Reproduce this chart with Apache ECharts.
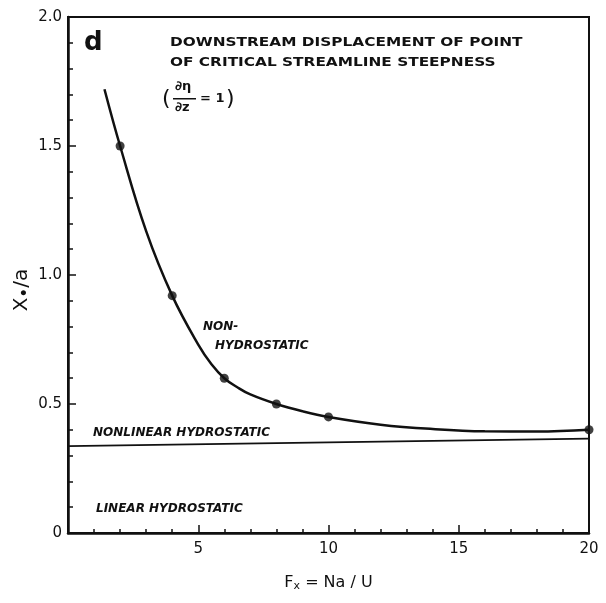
<!DOCTYPE html>
<html>
<head>
<meta charset="utf-8">
<script src="https://cdn.jsdelivr.net/npm/echarts@6/dist/echarts.min.js"></script>
<style>
  html, body { margin: 0; padding: 0; background: #fff; }
  #chart { width: 606px; height: 603px; }
</style>
</head>
<body>
<div id="chart"></div>
<script>
// measured points (dots)
const fxPoints = [2, 4, 6, 8, 10, 20]
const xaPoints = [1.5, 0.92, 0.6, 0.5, 0.45, 0.4]

// fitted curve
const curveFx = [1.4, 2, 3, 4, 5, 5.5, 6, 6.5, 7, 8, 9, 10, 12, 14, 16, 18, 20]
const curveXa = [1.72, 1.5, 1.17, 0.92, 0.73, 0.655, 0.6, 0.565, 0.537, 0.5, 0.472, 0.45, 0.42, 0.403, 0.394, 0.393, 0.4]

// nonlinear hydrostatic reference line
const hydroFx = [0, 20]
const hydroXa = [0.337, 0.366]

const xTicks = [5, 10, 15, 20]
const yTicks = ['0', '0.5', '1.0', '1.5', '2.0']

const ink = '#111'
const font = 'DejaVu Sans, Liberation Sans, sans-serif'
const zip = (xs, ys) => xs.map((x, i) => [x, ys[i]])

const chart = echarts.init(document.getElementById('chart'), null, { renderer: 'canvas' })

const italic = { fill: ink, font: 'italic bold 12px ' + font }
const caption = { fill: ink, font: 'bold 13px ' + font, align: 'left', verticalAlign: 'top' }

chart.setOption({
  animation: false,
  backgroundColor: '#fff',
  grid: {
    left: 68, right: 17, top: 17, bottom: 70,
    show: true, borderColor: ink, borderWidth: 2, backgroundColor: 'transparent',
  },
  xAxis: {
    type: 'value',
    min: 0, max: 20, interval: 5,
    axisLine: { lineStyle: { color: ink, width: 2.5 } },
    axisTick: { inside: true, length: 8, lineStyle: { color: ink, width: 1.5 } },
    minorTick: { show: true, splitNumber: 5, length: 4, lineStyle: { color: ink, width: 1.5 } },
    splitLine: { show: false },
    axisLabel: {
      color: ink, fontSize: 15, fontFamily: font, margin: 9,
      formatter: v => (xTicks.includes(v) ? String(v) : ''),
    },
    name: '{b|F}{s|x}{b| = Na / U}',
    nameLocation: 'middle',
    nameGap: 40,
    nameTextStyle: {
      rich: {
        b: { fontSize: 16, color: ink, fontFamily: font },
        s: { fontSize: 11, color: ink, fontFamily: font, padding: [8, 0, 0, 0] },
      },
    },
  },
  yAxis: {
    type: 'value',
    min: 0, max: 2, interval: 0.5,
    axisLine: { show: true, lineStyle: { color: ink, width: 2.5 } },
    axisTick: { show: true, inside: true, length: 8, lineStyle: { color: ink, width: 1.5 } },
    minorTick: { show: true, splitNumber: 5, length: 5, lineStyle: { color: ink, width: 1.5 } },
    splitLine: { show: false },
    axisLabel: {
      color: ink, fontSize: 15, fontFamily: font, margin: 6,
      formatter: v => yTicks[Math.round(v / 0.5)],
    },
  },
  series: [
    {
      type: 'line',
      data: zip(curveFx, curveXa),
      smooth: 0.4,
      showSymbol: false,
      lineStyle: { color: ink, width: 2.5 },
    },
    {
      type: 'scatter',
      data: zip(fxPoints, xaPoints),
      symbolSize: 9,
      itemStyle: { color: ink },
    },
    {
      type: 'line',
      data: zip(hydroFx, hydroXa),
      showSymbol: false,
      lineStyle: { color: ink, width: 1.8 },
    },
  ],
  graphic: [
    {
      type: 'text', x: 22, y: 290, rotation: Math.PI / 2,
      style: {
        text: '{b|X}{s|•}{b|/a}', align: 'center', verticalAlign: 'middle',
        rich: {
          b: { fontSize: 20, fill: ink, fontFamily: font },
          s: { fontSize: 17, fill: ink, fontFamily: font, padding: [8, 0, 0, 0] },
        },
      },
    },
    { type: 'text', left: 84, top: 30, style: { text: 'd', fill: ink, font: 'bold 26px ' + font } },
    { type: 'text', x: 170, y: 36, scaleX: 1.18, style: { text: 'DOWNSTREAM DISPLACEMENT OF POINT', ...caption } },
    { type: 'text', x: 170, y: 56, scaleX: 1.18, style: { text: 'OF CRITICAL STREAMLINE STEEPNESS', ...caption } },
    { type: 'text', left: 162, top: 88, style: { text: '(', fill: ink, font: '22px ' + font } },
    { type: 'text', left: 175, top: 80, style: { text: '∂η', ...caption } },
    { type: 'rect', shape: { x: 173, y: 98, width: 23, height: 1.5 }, style: { fill: ink } },
    { type: 'text', left: 175, top: 101, style: { text: '∂z', ...caption } },
    { type: 'text', left: 200, top: 92, style: { text: '= 1', ...caption } },
    { type: 'text', left: 226, top: 88, style: { text: ')', fill: ink, font: '22px ' + font } },
    { type: 'text', left: 203, top: 321, style: { text: 'NON-', ...italic } },
    { type: 'text', left: 215, top: 340, style: { text: 'HYDROSTATIC', ...italic } },
    { type: 'text', left: 93, top: 427, style: { text: 'NONLINEAR HYDROSTATIC', ...italic } },
    { type: 'text', left: 96, top: 503, style: { text: 'LINEAR HYDROSTATIC', ...italic } },
  ],
})
</script>
</body>
</html>
